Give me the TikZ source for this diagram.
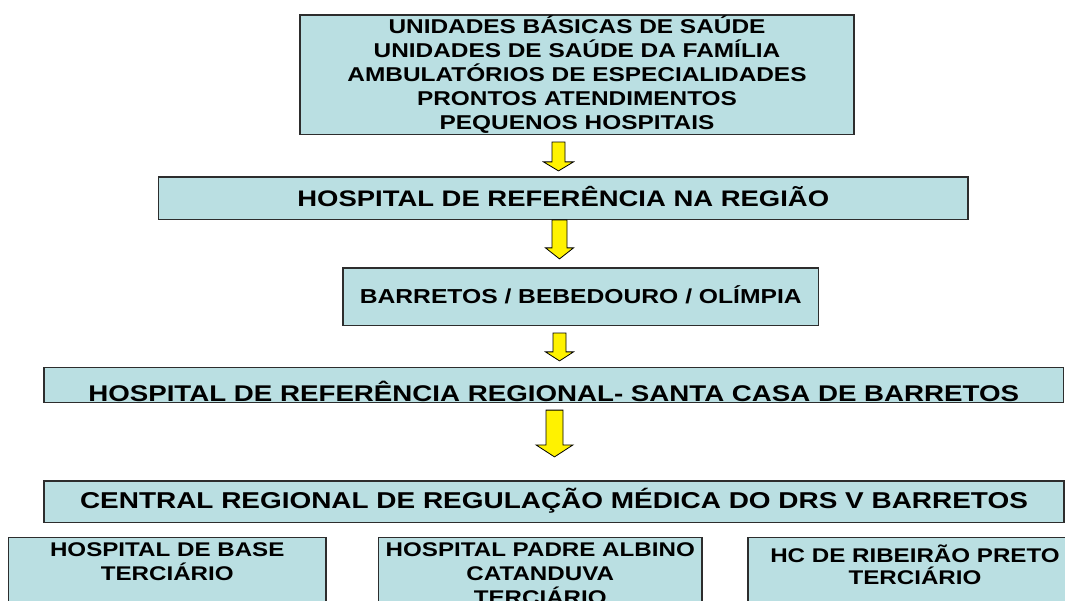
\documentclass[tikz,border=0pt]{standalone}
\usepackage{fontspec}
\setmainfont{Liberation Sans}
\newfontfamily\boxfont[FakeStretch=1.22]{Liberation Sans}
\usetikzlibrary{calc}

\definecolor{boxblue}{RGB}{186,223,226}
\definecolor{boxline}{RGB}{45,45,45}

\tikzset{
	box/.style={draw=boxline, line width=1.2pt, fill=boxblue, inner sep=0pt,
		align=center, font=\boxfont\bfseries},
	lowbox/.style={box, anchor=north},
	yellowarrow/.style={draw=black, line width=0.8pt, fill=yellow, line join=miter},
}

\begin{document}
\begin{tikzpicture}[x=1pt,y=-1pt]
	\newcommand{\fsize}[2]{\fontsize{#1}{#2}\selectfont}
	\newcommand{\lowText}[3]{\parbox[t][72pt][t]{#1}{\centering\vspace*{#2}\rule{0pt}{18pt}#3}}
	% #1 from, #2 to, #3 top gap, #4 tip gap, #5 head length, #6 shaft half, #7 head half, #8 x shift
	\newcommand{\yellowArrow}[8]{
		\draw[yellowarrow] ($(#1.south -| mid)+(#8-#6,#3)$) -- ($(#1.south -| mid)+(#8+#6,#3)$)
			-- ($(#2.north -| mid)+(#8+#6,-#4-#5)$) -- ($(#2.north -| mid)+(#8+#7,-#4-#5)$)
			-- ($(#2.north -| mid)+(#8,-#4)$) -- ($(#2.north -| mid)+(#8-#7,-#4-#5)$)
			-- ($(#2.north -| mid)+(#8-#6,-#4-#5)$) -- cycle;
	}

	\useasboundingbox (0,0) rectangle (1065,601);
	\coordinate (mid) at (558.5,0);

	% levels
	\node[box, minimum width=554pt, minimum height=119.5pt,
		font=\boxfont\bfseries\fsize{20}{24}] (units) at (577,74.75)
		{UNIDADES BÁSICAS DE SAÚDE\\UNIDADES DE SAÚDE DA FAMÍLIA\\
		AMBULATÓRIOS DE ESPECIALIDADES\\PRONTOS ATENDIMENTOS\\PEQUENOS HOSPITAIS};
	\node[box, minimum width=809.5pt, minimum height=42.5pt, text height=17pt, text depth=0pt]
		(hreg) at (563.25,198.25) {\fsize{22.5}{27}HOSPITAL DE REFERÊNCIA NA REGIÃO};
	\node[box, minimum width=475.5pt, minimum height=57.5pt, text height=14.5pt, text depth=0pt]
		(cities) at (580.75,296.75) {\fsize{20.2}{24}BARRETOS / BEBEDOURO / OLÍMPIA};
	\node[box, minimum width=1019.5pt, minimum height=35pt, text height=33.5pt, text depth=0pt]
		(santa) at (553.75,385) {\fsize{22.7}{27}HOSPITAL DE REFERÊNCIA REGIONAL- SANTA CASA DE BARRETOS};
	\node[box, minimum width=1020pt, minimum height=41.5pt, text height=16pt, text depth=3.5pt]
		(central) at (554,501.75) {\fsize{22.9}{27}CENTRAL REGIONAL DE REGULAÇÃO MÉDICA DO DRS V BARRETOS};

	% tertiary hospitals
	\node[lowbox] (base) at (167.25,537)
		{\lowText{317.5pt}{1pt}{\fsize{19.8}{24}HOSPITAL DE BASE\\TERCIÁRIO}};
	\node[lowbox] (albino) at (540.25,537)
		{\lowText{323.5pt}{1pt}{\fsize{19.8}{24}HOSPITAL PADRE ALBINO\\CATANDUVA\\TERCIÁRIO}};
	\node[lowbox] (hc) at (915,537)
		{\lowText{334pt}{6.5pt}{\fsize{19.8}{22.5}HC DE RIBEIRÃO PRETO\\TERCIÁRIO}};

	% arrows
	\yellowArrow{units}{hreg}{7}{5.5}{9}{6.5}{15}{0}
	\yellowArrow{hreg}{cities}{0}{8.5}{11}{7.5}{14}{1}
	\yellowArrow{cities}{santa}{7}{6}{9}{6.5}{14}{1}
	\yellowArrow{santa}{central}{7}{23.5}{12}{8.5}{18.5}{-4}
\end{tikzpicture}
\end{document}
